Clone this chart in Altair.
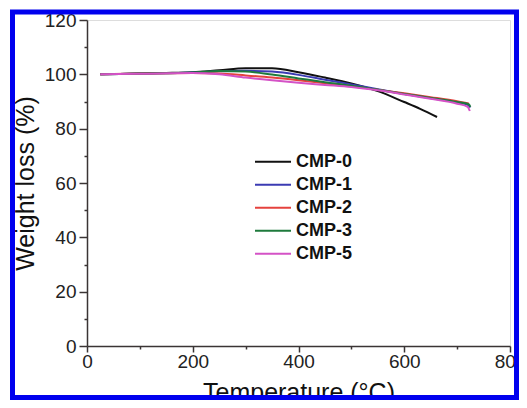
import altair as alt
import pandas as pd

series = ["CMP-0", "CMP-1", "CMP-2", "CMP-3", "CMP-5"]
colors = ["#111111", "#3b3bb3", "#e5423e", "#1e7a3c", "#d452c6"]

t0 = [25, 100, 150, 200, 250, 300, 350, 400, 450, 500, 550, 600, 630, 662]
w0 = [100, 100.3, 100.5, 100.8, 101.5, 102.2, 102.2, 100.8, 98.8, 96.6, 93.8, 89.8, 87.3, 84.3]

t1 = [25, 100, 200, 250, 300, 350, 400, 450, 500, 550, 600, 650, 700, 720, 725]
w1 = [100, 100.3, 100.7, 101.1, 101.3, 101.0, 99.8, 98.0, 96.3, 94.5, 92.8, 91.2, 89.6, 88.8, 87.8]

t2 = [25, 100, 200, 250, 300, 350, 400, 450, 500, 550, 600, 650, 700, 722]
w2 = [100, 100.3, 100.5, 100.3, 99.6, 98.8, 97.8, 96.7, 95.6, 94.3, 93.0, 91.6, 90.1, 89.3]

t3 = [25, 100, 200, 250, 300, 350, 400, 450, 500, 550, 600, 650, 700, 722, 725]
w3 = [100, 100.3, 100.7, 101.2, 101.0, 99.9, 98.5, 97.1, 95.8, 94.3, 92.8, 91.3, 89.8, 89.0, 88.0]

t5 = [25, 100, 200, 250, 300, 350, 400, 450, 500, 550, 600, 650, 700, 720, 724]
w5 = [100, 100.2, 100.5, 100.0, 98.8, 97.8, 96.9, 96.1, 95.3, 94.1, 92.6, 91.0, 89.2, 88.0, 86.5]

temps = [t0, t1, t2, t3, t5]
weights = [w0, w1, w2, w3, w5]

rows = []
for name, ts, ws in zip(series, temps, weights):
    for i, (t, w) in enumerate(zip(ts, ws)):
        rows.append({"series": name, "T": t, "W": w, "i": i})
df = pd.DataFrame(rows)

font = "Liberation Sans"

x_axis = alt.Axis(
    title="Temperature (°C)",
    values=list(range(0, 801, 100)),
    labelExpr="datum.value % 200 === 0 ? datum.label : ''",
    tickSize={"condition": {"test": "datum.value % 200 === 0", "value": 6}, "value": 3},
    labelPadding=0,
    labelFlush=False,
    labelOverlap=False,
    grid=False,
    labelFontSize=19,
    titleFontSize=25,
    titleFontWeight="normal",
    titlePadding=9,
    domainColor="#3a3434",
    tickColor="#3a3434",
    labelColor="#222222",
    titleColor="#111111",
    domainWidth=1.5,
    tickWidth=1.5,
)
y_axis = alt.Axis(
    title="Weight loss (%)",
    values=list(range(0, 121, 10)),
    labelExpr="datum.value % 20 === 0 ? datum.label : ''",
    tickSize={"condition": {"test": "datum.value % 20 === 0", "value": 8}, "value": 3},
    labelPadding=3,
    labelFlush=False,
    labelOverlap=False,
    grid=False,
    labelFontSize=19,
    titleFontSize=25,
    titleFontWeight="normal",
    titlePadding=6,
    domainColor="#3a3434",
    tickColor="#3a3434",
    labelColor="#222222",
    titleColor="#111111",
    domainWidth=1.5,
    tickWidth=1.5,
)

lines = alt.Chart(df).mark_line(strokeWidth=2, interpolate="monotone").encode(
    x=alt.X("T:Q", scale=alt.Scale(domain=[0, 800], nice=False), axis=x_axis),
    y=alt.Y("W:Q", scale=alt.Scale(domain=[0, 120], nice=False), axis=y_axis),
    color=alt.Color(
        "series:N",
        scale=alt.Scale(domain=series, range=colors),
        legend=alt.Legend(
            title=None,
            orient="none",
            legendX=167,
            legendY=131.5,
            symbolType="stroke",
            symbolSize=1296,
            symbolStrokeWidth=2,
            clipHeight=20.7,
            rowPadding=2,
            padding=0,
            labelOffset=4,
            labelFont=font,
            labelFontSize=18,
            labelFontWeight="bold",
            labelColor="#111111",
        ),
    ),
    order="i:Q",
)

frame = alt.Chart(alt.Data(values=[{"f": 1}])).mark_rect(
    filled=False, stroke="#0000ee", strokeWidth=5
).encode(
    x=alt.value(-74.5), x2=alt.value(429.5), y=alt.value(-8), y2=alt.value(377.5)
)

chart = alt.layer(lines, frame).properties(
    width=423,
    height=326,
    autosize=alt.AutoSizeParams(type="none"),
    padding={"left": 79, "top": 12, "right": 9, "bottom": 54},
    background="white",
).configure_view(stroke=None).configure(font=font)

chart.save("out.html", embed_options={"renderer": "svg", "actions": False})
